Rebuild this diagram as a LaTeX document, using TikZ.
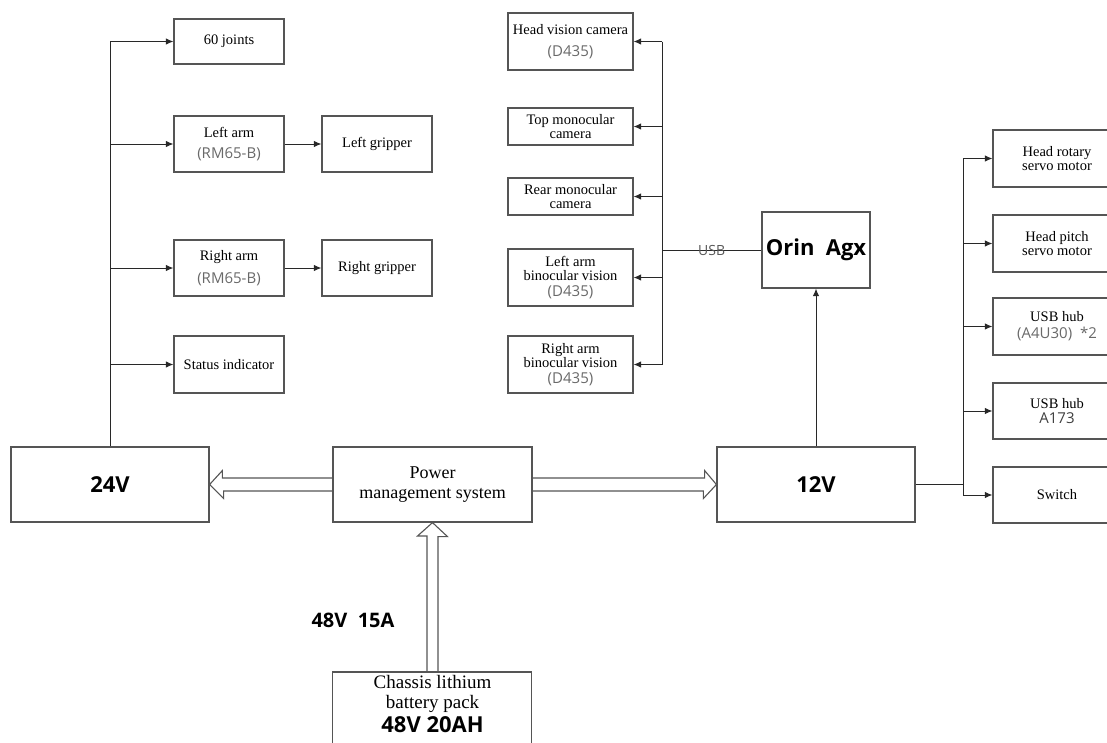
\documentclass[tikz,border=0pt]{standalone}
\usepackage{fontspec}
\setmainfont{Liberation Serif}
\setsansfont{Open Sans}
\usetikzlibrary{arrows.meta}
\definecolor{edge}{RGB}{85,85,85}
\definecolor{wire}{RGB}{40,40,40}
\definecolor{note}{RGB}{105,105,105}
\newcommand{\modl}[1]{{\sffamily\fontsize{15}{15}\selectfont\color{note}#1}}

\begin{document}
\begin{tikzpicture}[x=1pt,y=-1pt,
  blk/.style={draw=edge,line width=1.2pt,align=center,inner sep=1pt,
    font=\fontsize{14.5}{13.8}\selectfont},
  sz/.style 2 args={minimum width=#1,minimum height=#2},
  big/.style={font=\sffamily\bfseries\fontsize{22}{24}\selectfont},
  lnk/.style={draw=wire,line width=1pt},
  tip/.style={lnk,-{Latex[length=7.5pt,width=6.5pt]}},
  fat/.style={draw=edge,line width=1.1pt,line join=miter}]
  \useasboundingbox (0,0) rectangle (1107,742);
  \clip (0,0) rectangle (1107,742);

  \node (j60) at (229,41.5) [blk,sz={110}{45}] {60 joints};
  \node (larm) at (229,144) [blk,sz={110}{56}] {Left arm\\[8pt]\modl{(RM65-B)}};
  \node (rarm) at (229,268) [blk,sz={110}{56}] {Right arm\\[8pt]\modl{(RM65-B)}};
  \node (stat) at (229,364.5) [blk,sz={110}{57}] {Status indicator};
  \node (lgrip) at (377,144) [blk,sz={110}{56}] {Left gripper};
  \node (rgrip) at (377,268) [blk,sz={110}{56}] {Right gripper};

  \node (hcam) at (570.5,41.5) [blk,sz={125}{57}] {Head vision camera\\[8pt]\modl{(D435)}};
  \node (tcam) at (570.5,126.5) [blk,sz={125}{37}] {Top monocular\\camera};
  \node (rcam) at (570.5,196.5) [blk,sz={125}{37}] {Rear monocular\\camera};
  \node (lbin) at (570.5,277.5) [blk,sz={125}{57}] {Left arm\\binocular vision\\[2pt]\modl{(D435)}};
  \node (rbin) at (570.5,364.5) [blk,sz={125}{57}] {Right arm\\binocular vision\\[2pt]\modl{(D435)}};

  \node (orin) at (816,250) [blk,sz={108}{76},big] {Orin\ \ Agx};

  \node (hrot) at (1057,158.5) [blk,sz={128}{57}] {Head rotary\\servo motor};
  \node (hpit) at (1057,243.5) [blk,sz={128}{57}] {Head pitch\\servo motor};
  \node (hub1) at (1057,326.5) [blk,sz={128}{57}] {USB hub\\[3pt]\modl{(A4U30)\ \ *2}};
  \node (hub2) at (1057,411) [blk,sz={128}{56}] {USB hub\\[1pt]\modl{\color{black!75}A173}};
  \node (swit) at (1057,495) [blk,sz={128}{56}] {Switch};

  \node (v24) at (110,484.5) [blk,sz={198}{75},big] {24V};
  \node (pms) at (432.5,484.5) [blk,sz={199}{75},font=\fontsize{18}{20}\selectfont] {Power\\management system};
  \node (v12) at (816,484.5) [blk,sz={198}{75},big] {12V};
  \node (bat) at (432.5,672) [anchor=north,align=center,inner sep=3pt,minimum width=199,
    font=\fontsize{19}{20}\selectfont] {Chassis lithium\\battery pack\\[3pt]{\sffamily\bfseries\fontsize{22}{22}\selectfont 48V 20AH}};
  \draw[draw=edge,line width=1.2pt] (bat.north west) rectangle ++(199,90);
  \node (cur) at (353,620) [font=\sffamily\bfseries\fontsize{20}{22}\selectfont] {48V\ \ 15A};

  \draw[lnk] (v24.north) -- (v24.north |- j60.west);
  \foreach \n in {j60,larm,rarm,stat}
    \draw[tip] (v24.north |- \n.west) -- (\n.west);
  \draw[tip] (larm.east) -- (lgrip.west);
  \draw[tip] (rarm.east) -- (rgrip.west);

  \coordinate (cb) at (662,0);
  \draw[lnk] (cb |- hcam.east) -- (cb |- rbin.east);
  \foreach \n in {hcam,tcam,rcam,lbin,rbin}
    \draw[tip] (cb |- \n.east) -- (\n.east);
  \draw[lnk] (orin.west) -- (cb |- orin.west) node[midway,font=\sffamily\fontsize{14}{14}\selectfont,text=note!85!black] {USB};

  \draw[tip] (v12.north) -- (orin.south);
  \coordinate (rb) at (963,0);
  \draw[lnk] (v12.east) -- (rb |- v12.east);
  \draw[lnk] (rb |- hrot.west) -- (rb |- swit.west);
  \foreach \n in {hrot,hpit,hub1,hub2,swit}
    \draw[tip] (rb |- \n.west) -- (\n.west);

  \draw[fat] (pms.west) ++(0,-6.5) -- ++(-110,0) -- ++(0,-7.5) -- (v24.east) -- ++(14,14) -- ++(0,-7.5) -- ++(110,0);
  \draw[fat] (pms.east) ++(0,-6.5) -- ++(172,0) -- ++(0,-7.5) -- (v12.west) -- ++(-13,14) -- ++(0,-7.5) -- ++(-172,0);
  \draw[fat] (bat.north) ++(-5.5,0) -- ++(0,-136) -- ++(-9.5,0) -- (pms.south) -- ++(15,14) -- ++(-9.5,0) -- ++(0,136);
\end{tikzpicture}
\end{document}
